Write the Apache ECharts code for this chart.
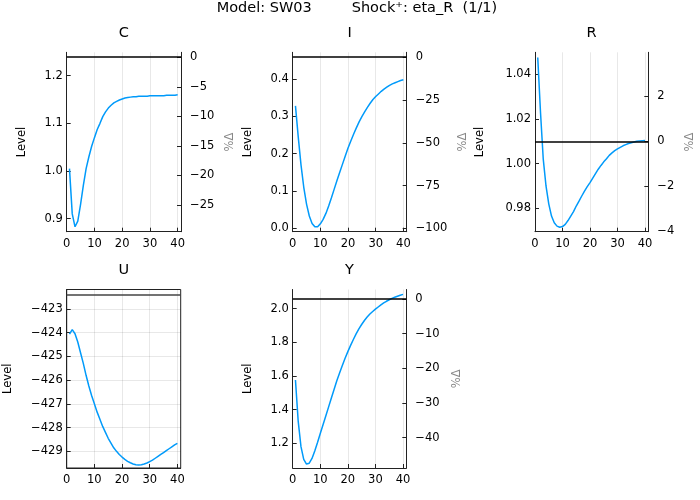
<!DOCTYPE html>
<html><head><meta charset="utf-8">
<script src="https://cdn.jsdelivr.net/npm/echarts@6/dist/echarts.min.js"></script>
<style>html,body{margin:0;padding:0;background:#fff}#c{width:700px;height:500px}</style>
</head><body><div id="c"></div>
<script>
// ---------- data ----------
const periods = [1,2,3,4,5,6,7,8,9,10,11,12,13,14,15,16,17,18,19,20,21,22,23,24,25,26,27,28,29,30,31,32,33,34,35,36,37,38,39,40];
const xTicks = [0, 10, 20, 30, 40];

const C = [1.005,0.91,0.883,0.895,0.93,0.97,1.005,1.03,1.052,1.07,1.087,1.1,1.114,1.124,1.132,1.138,1.143,1.146,1.149,1.151,1.153,1.154,1.155,1.156,1.156,1.157,1.157,1.157,1.157,1.158,1.158,1.158,1.158,1.158,1.158,1.159,1.159,1.159,1.159,1.16];
const I = [0.328,0.245,0.17,0.11,0.065,0.033,0.013,0.004,0.004,0.012,0.024,0.04,0.06,0.082,0.105,0.128,0.15,0.172,0.194,0.215,0.234,0.252,0.269,0.285,0.299,0.312,0.324,0.335,0.345,0.353,0.36,0.367,0.373,0.378,0.383,0.387,0.39,0.393,0.396,0.398];
const R = [1.0476,1.023,1.002,0.99,0.982,0.9765,0.9735,0.972,0.9715,0.9718,0.9728,0.9745,0.9765,0.9785,0.981,0.9832,0.9855,0.9877,0.9897,0.9915,0.9935,0.9955,0.9975,0.9992,1.0008,1.0022,1.0037,1.0048,1.0058,1.0066,1.0073,1.008,1.0085,1.009,1.0094,1.0097,1.01,1.0102,1.0103,1.0104];
const U = [-424.07,-423.88,-424.05,-424.4,-424.85,-425.3,-425.8,-426.25,-426.65,-427.0,-427.35,-427.65,-427.95,-428.2,-428.45,-428.65,-428.85,-429.0,-429.13,-429.24,-429.34,-429.42,-429.48,-429.53,-429.56,-429.57,-429.56,-429.53,-429.49,-429.43,-429.37,-429.29,-429.21,-429.13,-429.05,-428.97,-428.89,-428.81,-428.73,-428.66];
const Y = [1.576,1.33,1.18,1.105,1.077,1.082,1.11,1.155,1.205,1.258,1.31,1.362,1.415,1.468,1.52,1.572,1.618,1.662,1.705,1.745,1.782,1.817,1.85,1.88,1.906,1.93,1.95,1.968,1.983,1.997,2.01,2.023,2.034,2.044,2.053,2.061,2.068,2.074,2.08,2.085];

// steady states (0 % deviation)
const steadyC = 1.2385, steadyI = 0.458, steadyR = 1.0102, steadyU = -422.39, steadyY = 2.0574;

// tick labels
const levelTicksC = [0.9, 1.0, 1.1, 1.2];
const levelTicksI = [0.0, 0.1, 0.2, 0.3, 0.4];
const levelTicksR = [0.98, 1.00, 1.02, 1.04];
const levelTicksU = [-429, -428, -427, -426, -425, -424, -423];
const levelTicksY = [1.2, 1.4, 1.6, 1.8, 2.0];
const pctTicksC = [-25, -20, -15, -10, -5, 0];
const pctTicksI = [-100, -75, -50, -25, 0];
const pctTicksR = [-4, -2, 0, 2];
const pctTicksY = [-40, -30, -20, -10, 0];

const mainTitle1 = 'Model: SW03';
const mainTitle2 = 'Shock\u207A: eta_R  (1/1)';

// ---------- layout ----------
const panels = [
  {name:'C', data:C, ss:steadyC, range:[0.8727,1.249], lt:levelTicksC, pt:pctTicksC, dec:1, box:[66.7,52.3,114.3,179.4], lvlX:22,  pctX:230},
  {name:'I', data:I, ss:steadyI, range:[-0.009,0.4715], lt:levelTicksI, pt:pctTicksI, dec:1, box:[292.7,52.3,114,179.4], lvlX:248.3, pctX:463.3},
  {name:'R', data:R, ss:steadyR, range:[0.9695,1.0499], lt:levelTicksR, pt:pctTicksR, dec:2, box:[535,52.3,113.3,179.4], lvlX:480, pctX:690},
  {name:'U', data:U, ss:steadyU, range:[-429.7,-422.19], lt:levelTicksU, pt:null, dec:0, box:[66.7,289.5,114,178.5], lvlX:8.3, pctX:null},
  {name:'Y', data:Y, ss:steadyY, range:[1.0534,2.1139], lt:levelTicksY, pt:pctTicksY, dec:1, box:[292.7,289.5,113.6,178.5], lvlX:248.3, pctX:456.7}
];
const xMax = 41.2;
const FONT = 'DejaVu Sans';
const AX = '#222';
const fmt = (v, d) => v.toFixed(d).replace('-', '\u2212');

const grid = [], xAxis = [], yAxis = [], series = [], graphic = [];
graphic.push({type:'text', x:216.7, y:8, style:{text:mainTitle1, fontFamily:FONT, fontSize:14.5, fill:'#000', align:'left', verticalAlign:'middle'}});
graphic.push({type:'text', x:351.7, y:8, style:{text:mainTitle2, fontFamily:FONT, fontSize:14.5, fill:'#000', align:'left', verticalAlign:'middle'}});

panels.forEach((p, i) => {
  const [l, t, w, h] = p.box;
  grid.push({left:l, top:t, width:w, height:h, containLabel:false,
    show: !p.pt, borderColor: AX, borderWidth: 1});
  xAxis.push({type:'value', gridIndex:i, min:0, max:xMax,
    axisLine:{show:true, onZero:false, lineStyle:{color:AX, width:1}},
    axisTick:{show:true, inside:true, length:4, customValues:xTicks, lineStyle:{color:AX}},
    axisLabel:{customValues:xTicks, fontFamily:FONT, fontSize:11.5, color:'#000', margin:6},
    splitLine:{show:true, lineStyle:{color:'rgba(0,0,0,0.09)', width:1}}});
  const leftIdx = yAxis.length;
  yAxis.push({type:'value', gridIndex:i, position:'left', min:p.range[0], max:p.range[1],
    axisLine:{show:true, onZero:false, lineStyle:{color:AX, width:1}},
    axisTick:{show:true, inside:true, length:4, customValues:p.lt, lineStyle:{color:AX}},
    axisLabel:{customValues:p.lt, fontFamily:FONT, fontSize:11.5, color:'#000', margin:4,
      formatter: v => fmt(v, p.dec)},
    splitLine:{show: !p.pt, lineStyle:{color:'rgba(0,0,0,0.09)', width:1}}});
  if (p.pt) {
    yAxis.push({type:'value', gridIndex:i, position:'right',
      min:(p.range[0]/p.ss - 1)*100, max:(p.range[1]/p.ss - 1)*100,
      axisLine:{show:true, onZero:false, lineStyle:{color:AX, width:1}},
      axisTick:{show:true, inside:true, length:4, customValues:p.pt, lineStyle:{color:AX}},
      axisLabel:{customValues:p.pt, fontFamily:FONT, fontSize:11.5, color:'#000', margin:9,
        formatter: v => fmt(v, 0)},
      splitLine:{show:false}});
  }
  series.push({type:'line', xAxisIndex:i, yAxisIndex:leftIdx,
    data: periods.map((x, k) => [x, p.data[k]]),
    showSymbol:false, symbol:'none', smooth:false, clip:true,
    lineStyle:{color:'#009AFA', width:1.5},
    markLine:{silent:true, symbol:['none','none'], label:{show:false},
      lineStyle:{color: p.pt ? '#000' : '#444', width:1.6, type:'solid'},
      data:[{yAxis:p.ss}]}});
  // panel title
  graphic.push({type:'text', x:l + w/2, y:t - 19, style:{text:p.name, fontFamily:FONT, fontSize:14.5, fill:'#000', align:'center', verticalAlign:'middle'}});
  // axis names
  graphic.push({type:'text', x:p.lvlX, y:t + h/2, rotation:Math.PI/2, style:{text:'Level', fontFamily:FONT, fontSize:11.5, fill:'#000', align:'center', verticalAlign:'middle'}});
  if (p.pt) graphic.push({type:'text', x:p.pctX, y:t + h/2, rotation:Math.PI/2, style:{text:'%\u0394', fontFamily:FONT, fontSize:11.5, fill:'#888', align:'center', verticalAlign:'middle'}});
});

const chart = echarts.init(document.getElementById('c'), null, {renderer:'canvas'});
chart.setOption({animation:false, backgroundColor:'#fff', grid, xAxis, yAxis, series, graphic});
</script></body></html>
